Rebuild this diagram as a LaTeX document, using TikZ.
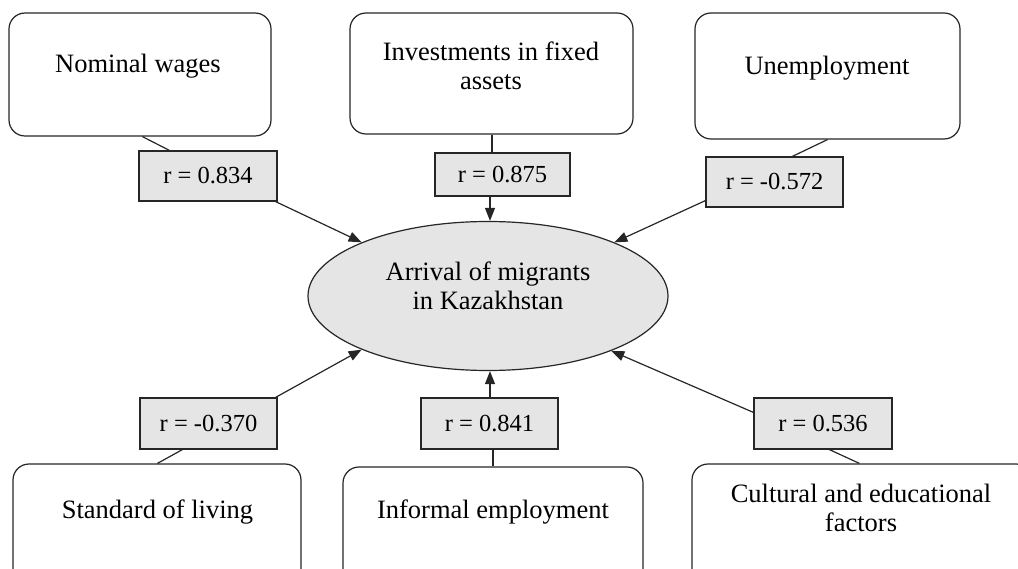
\documentclass[tikz,border=0pt]{standalone}
\usepackage{fontspec}
\setmainfont{Liberation Serif}
\usetikzlibrary{arrows.meta,calc,shapes.geometric}
\begin{document}
\begin{tikzpicture}[x=1pt,y=-1pt,
  factor/.style={draw=black!85, line width=1.2pt, rounded corners=16pt, fill=white, inner sep=0pt},
  ftext/.style={font=\fontsize{26.5}{29}\selectfont, align=center, text=black, inner sep=0pt, anchor=base},
  rbox/.style={draw=black!85, line width=1.2pt, fill=gray!20, font=\fontsize{24.5}{28}\selectfont, inner sep=0pt, text=black},
  link/.style={draw=black!85, line width=1.2pt},
  arr/.style={link, -{Triangle[length=13pt,width=10pt]}}]
\useasboundingbox (0,0) rectangle (1018,569);
\clip (0,0) rectangle (1018,569);

% factor boxes
\node[factor, minimum width=262, minimum height=123] (nw) at (140,74.5) {};
\node[ftext] (nwt) at (138,73) {Nominal wages};
\node[factor, minimum width=283, minimum height=121] (ii) at (491.5,73.5) {};
\node[ftext, anchor=center] (iit) at (491,66) {Investments in fixed\\assets};
\node[factor, minimum width=265, minimum height=126] (un) at (827.5,76) {};
\node[ftext] (unt) at (827,75) {Unemployment};
\node[factor, minimum width=288, minimum height=130] (sl) at (157,529) {};
\node[ftext] (slt) at (157.5,518) {Standard of living};
\node[factor, minimum width=300, minimum height=130] (ie) at (493,532) {};
\node[ftext] (iet) at (493,518) {Informal employment};
\node[factor, minimum width=340, minimum height=130] (ce) at (862,529) {};
\node[ftext, anchor=center] (cet) at (861,508) {Cultural and educational\\factors};

% central ellipse
\node[ellipse, draw=black!85, line width=1.2pt, fill=gray!20, minimum width=360, minimum height=149, inner sep=0pt] (ell) at (488,296) {};
\node[ftext, anchor=center] (ellt) at (488,286) {Arrival of migrants\\in Kazakhstan};

% correlation labels
\node[rbox, minimum width=138, minimum height=50] (l1) at (208,176) {r = 0.834};
\node[rbox, minimum width=135, minimum height=43] (l2) at (502.5,174.5) {r = 0.875};
\node[rbox, minimum width=137, minimum height=50] (l3) at (774.5,182) {r = -0.572};
\node[rbox, minimum width=137, minimum height=51] (l4) at (208.5,423.5) {r = -0.370};
\node[rbox, minimum width=137, minimum height=51] (l5) at (489.5,423.5) {r = 0.841};
\node[rbox, minimum width=138, minimum height=51] (l6) at (823,423.5) {r = 0.536};

% connectors
\coordinate (x492) at (492,0);
\coordinate (x490) at (490,0);
\coordinate (x493) at (493,0);
\draw[link] ($(nw.south west)+(134,0)$) -- ($(l1.north west)+(31,0)$);
\draw[arr] ($(l1.south east)+(-2,0)$) -- (ell.157.5);
\draw[link] (ii.south -| x492) -- (l2.north -| x492);
\draw[arr] (l2.south -| x490) -- (ell.north -| x490);
\draw[link] (un.south) -- ($(l3.north west)+(87,0)$);
\draw[arr] ($(l3.south west)+(0,-7)$) -- (ell.23);
\draw[link] ($(sl.north west)+(145,0)$) -- ($(l4.south west)+(43,0)$);
\draw[arr] ($(l4.north east)+(-2,0)$) -- (ell.203.3);
\draw[link] (ie.north -| x493) -- (l5.south -| x493);
\draw[arr] (l5.north -| x490) -- (ell.south -| x490);
\draw[link] ($(ce.north west)+(168,0)$) -- ($(l6.south west)+(76,0)$);
\draw[arr] ($(l6.north west)+(0,15)$) -- (ell.336);
\end{tikzpicture}
\end{document}
